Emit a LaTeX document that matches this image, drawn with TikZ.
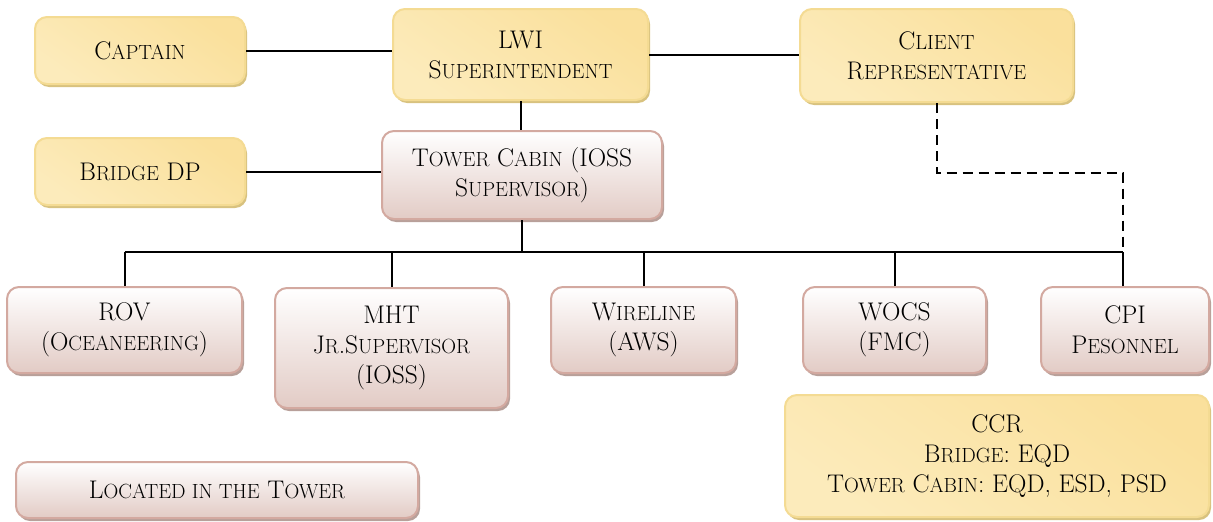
\documentclass[tikz,border=0pt]{standalone}
\usepackage{fontspec}
\usetikzlibrary{shadows}

\definecolor{yBorder}{HTML}{F4DB93}
\definecolor{yDark}{HTML}{FAE09C}
\definecolor{yMid}{HTML}{FCEBBB}
\definecolor{yLight}{HTML}{FFF8E8}
\definecolor{yShadow}{HTML}{D8C27F}
\definecolor{pBorder}{HTML}{D3A9A0}
\definecolor{pBottom}{HTML}{E2CBC5}
\definecolor{pShadow}{HTML}{B8A09A}

% lower-case letters set as smaller capitals
\newcommand{\lc}[1]{{\fontsize{20.5}{31}\selectfont #1}}

\tikzset{
  box/.style={rounded corners=12pt, line width=2pt, align=center,
    inner sep=2pt, font=\rmfamily\fontsize{25.5}{30}\selectfont},
  yellowbox/.style={box, draw=yBorder,
    top color=yDark, middle color=yLight, bottom color=yMid, shading angle=-35,
    drop shadow={shadow xshift=2pt, shadow yshift=-3pt, fill=yShadow, opacity=1}},
  pinkbox/.style={box, draw=pBorder, top color=white, bottom color=pBottom,
    drop shadow={shadow xshift=2pt, shadow yshift=-3pt, fill=pShadow, opacity=1}},
  link/.style={line width=2pt, black},
  dashlink/.style={link, dash pattern=on 10pt off 6pt},
}

\begin{document}
\begin{tikzpicture}[x=1pt, y=-1pt]
\useasboundingbox (0,0) rectangle (1213,522);

% top row
\node[yellowbox, minimum width=210pt, minimum height=67pt] (captain) at (140,50.5) {C\lc{APTAIN}};
\node[yellowbox, minimum width=255pt, minimum height=91pt] (lwi) at (520.5,54.5) {LWI\\S\lc{UPERINTENDENT}};
\node[yellowbox, minimum width=273pt, minimum height=93pt] (client) at (936.5,55.5) {C\lc{LIENT}\\R\lc{EPRESENTATIVE}};

% second row
\node[yellowbox, minimum width=210pt, minimum height=67pt] (bridge) at (140,171.5) {B\lc{RIDGE} DP};
\node[pinkbox, minimum width=280pt, minimum height=88pt] (tower) at (522,175) {T\lc{OWER} C\lc{ABIN} (IOSS\\S\lc{UPERVISOR})};

% crews
\node[pinkbox, minimum width=235pt, minimum height=86pt] (rov) at (124.5,330) {ROV\\(O\lc{CEANEERING})};
\node[pinkbox, minimum width=233pt, minimum height=120pt] (mht) at (391.5,348) {MHT\\J\lc{R}.S\lc{UPERVISOR}\\(IOSS)};
\node[pinkbox, minimum width=185pt, minimum height=86pt] (wire) at (643.5,330) {W\lc{IRELINE}\\(AWS)};
\node[pinkbox, minimum width=183pt, minimum height=86pt] (wocs) at (894.5,330) {WOCS\\(FMC)};
\node[pinkbox, minimum width=168pt, minimum height=86pt] (cpi) at (1125,330) {CPI\\P\lc{ESONNEL}};

% bottom row
\node[pinkbox, minimum width=402pt, minimum height=56pt] (legend) at (217,490) {L\lc{OCATED IN THE} T\lc{OWER}};
\node[yellowbox, minimum width=424pt, minimum height=122pt] (ccr) at (997,456) {CCR\\B\lc{RIDGE}: EQD\\T\lc{OWER} C\lc{ABIN}: EQD, ESD, PSD};

% connectors
\coordinate (bus) at (0,252);
\coordinate (turn) at (1123,173);
\draw[link] (captain.east) -- (captain.east -| lwi.west);
\draw[link] (lwi.east) -- (lwi.east -| client.west);
\draw[link] (bridge.east) -- (bridge.east -| tower.west);
\draw[link] (lwi.south) -- (lwi.south |- tower.north);
\draw[link] (tower.south) -- (tower.south |- bus);
\draw[link] (rov.north |- bus) -- (turn |- bus);
\draw[link] (rov.north) -- (rov.north |- bus);
\draw[link] (mht.north) -- (mht.north |- bus);
\draw[link] (wire.north) -- (wire.north |- bus);
\draw[link] (wocs.north) -- (wocs.north |- bus);
\draw[link] (turn |- cpi.north) -- (turn |- bus);
\draw[dashlink] (client.south) |- (turn) -- (turn |- bus);
\end{tikzpicture}
\end{document}
